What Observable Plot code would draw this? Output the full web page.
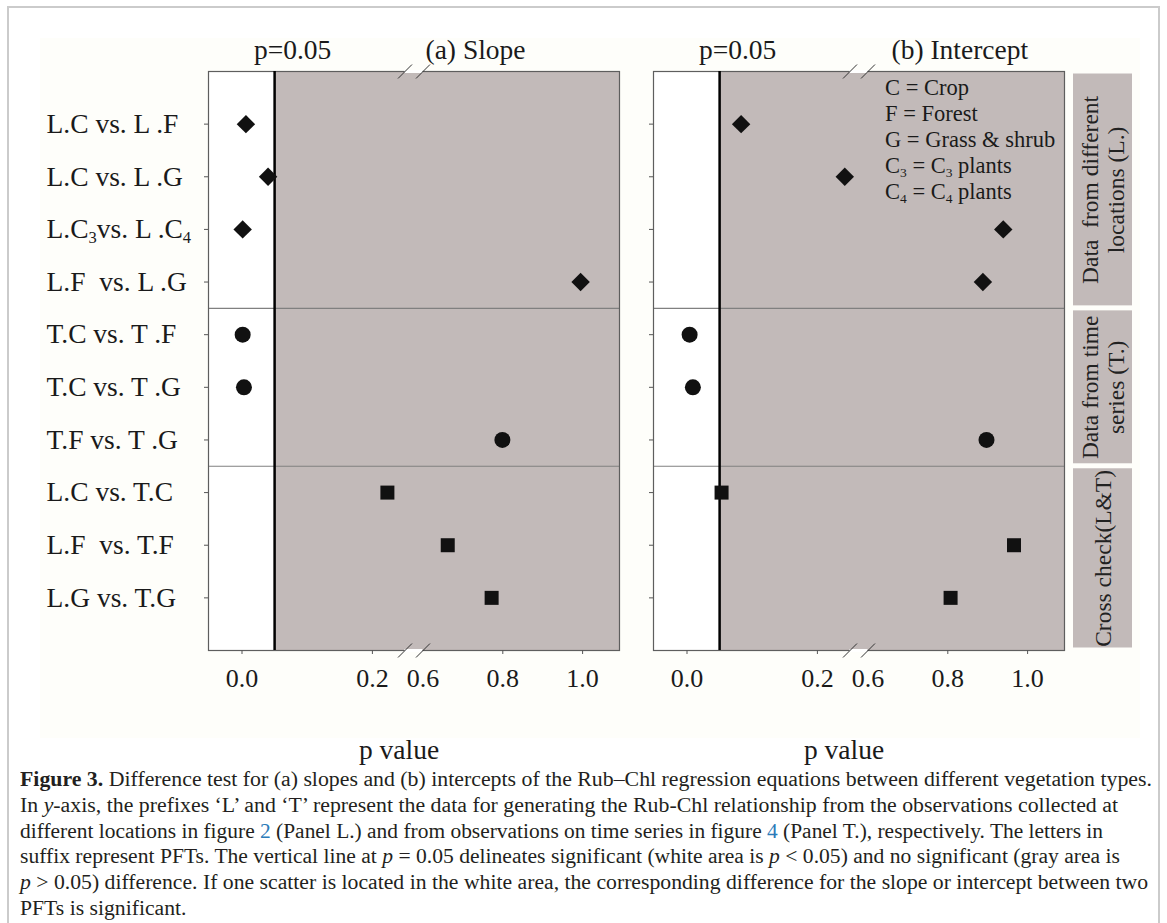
<!DOCTYPE html>
<html><head><meta charset="utf-8">
<script src="https://cdn.jsdelivr.net/npm/d3@7"></script>
<script src="https://cdn.jsdelivr.net/npm/@observablehq/plot@0.6"></script>
<style>
body{margin:0;background:#fff;font-family:"Liberation Serif","Times New Roman",serif;}
#fig{position:relative;width:1167px;height:923px;overflow:hidden;}
.abs{position:absolute;}
#border{left:7px;top:6px;width:1153px;height:960px;border:2px solid #cbcbcb;box-sizing:border-box}
#cream{left:40px;top:38px;width:1100px;height:700px;background:#fefefa}
#legend{left:885px;top:75px;font-size:22.5px;line-height:26px;color:#1a1a1a;white-space:nowrap}
#legend sub{font-size:0.6em;vertical-align:-0.3em;line-height:0}
#caption{left:20px;top:767px;font-size:20.5px;line-height:25.8px;color:#231f20}
#caption .ln{white-space:nowrap;display:block;height:25.8px}
#caption .in{display:inline-block;transform-origin:0 50%}
.fig-ref{color:#2b7bb9}
</style>
</head><body>
<div id="fig">
  <div id="border" class="abs"></div>
  <div id="cream" class="abs"></div>
  <div id="legend" class="abs">
    <div>C = Crop</div>
    <div>F = Forest</div>
    <div>G = Grass &amp; shrub</div>
    <div>C<sub>3</sub> = C<sub>3</sub> plants</div>
    <div>C<sub>4</sub> = C<sub>4</sub> plants</div>
  </div>
  <div id="caption" class="abs">
    <div class="ln" data-w="1132"><span class="in"><b>Figure 3.</b> Difference test for (a) slopes and (b) intercepts of the Rub–Chl regression equations between different vegetation types.</span></div>
    <div class="ln" data-w="1098"><span class="in">In <i>y</i>-axis, the prefixes ‘L’ and ‘T’ represent the data for generating the Rub-Chl relationship from the observations collected at</span></div>
    <div class="ln" data-w="1083"><span class="in">different locations in figure <span class="fig-ref">2</span> (Panel L.) and from observations on time series in figure <span class="fig-ref">4</span> (Panel T.), respectively. The letters in</span></div>
    <div class="ln" data-w="1100"><span class="in">suffix represent PFTs. The vertical line at <i>p</i> = 0.05 delineates significant (white area is <i>p</i> &lt; 0.05) and no significant (gray area is</span></div>
    <div class="ln" data-w="1128"><span class="in"><i>p</i> &gt; 0.05) difference. If one scatter is located in the white area, the corresponding difference for the slope or intercept between two</span></div>
    <div class="ln"><span class="in">PFTs is significant.</span></div>
  </div>
</div>
<script>
// ---- data ----
const rowLabels = ["L.C vs. L .F", "L.C vs. L .G", "L.C3vs. L .C4", "L.F  vs. L .G",
  "T.C vs. T .F", "T.C vs. T .G", "T.F vs. T .G",
  "L.C vs. T.C", "L.F  vs. T.F", "L.G vs. T.G"];
const rowGroups = ["L", "L", "L", "L", "T", "T", "T", "LT", "LT", "LT"];
const slopeP     = [0.006, 0.040, 0.001, 0.995, 0.001, 0.003, 0.799, 0.223, 0.662, 0.772];
const interceptP = [0.083, 0.242, 0.939, 0.888, 0.004, 0.009, 0.897, 0.053, 0.966, 0.807];
const groupOrder = ["L", "T", "LT"];
const groupLabels = ["Data  from different\nlocations (L.)", "Data from time\nseries (T.)", "Cross check(L&T)"];
const xTickValues = [0, 0.2, 0.8, 1.0];
const xTickLabels = [0, 0.2, 0.6, 0.8, 1.0];
const pThreshold = 0.05;
const axisBreak = [0.25, 0.6];

// ---- styles / layout ----
const groupSymbols = {L: "diamond2", T: "circle", LT: "square"};
const groupR = {L: 8.3, T: 8, LT: 7.9};
const n = rowLabels.length;
const pDomain = [-0.0514, axisBreak[0], axisBreak[1], 1.0925];
const axisOffsets = [0, 196.5, 214.5, 411];
const broken = d3.scaleLinear(pDomain, axisOffsets);   // broken-axis transform
const H = 780, TOP = 71, BOTTOM = 650;
const GREY = "#c2bab9", INK = "#1a1a1a";
const FONT = "'Liberation Serif', 'Times New Roman', serif";

const rows = rowLabels.map((label, i) => ({label, i, group: rowGroups[i], slope: slopeP[i], intercept: interceptP[i]}));
const sections = groupOrder.map((g, k) => {
  const idx = rows.filter(r => r.group === g).map(r => r.i);
  const a = d3.min(idx), b = d3.max(idx);
  return {group: g, label: groupLabels[k], y1: a === 0 ? -1 : a - 0.5, y2: b === n - 1 ? n : b + 0.5};
});
const separators = sections.slice(1).map(s => s.y1);

function panel({key, title, width, marginLeft, titleDx, labels}) {
  const span = axisOffsets[axisOffsets.length - 1];
  const sy = d3.scaleLinear([n, -1], [BOTTOM, TOP]);
  const slashes = [];
  for (const b of axisBreak) for (const e of [-1, n]) {
    const px = broken(b), py = sy(e);
    slashes.push({x1: broken.invert(px - 7), y1: sy.invert(py + 7), x2: broken.invert(px + 7), y2: sy.invert(py - 7)});
  }
  const lo = pDomain[0], hi = pDomain[pDomain.length - 1];
  const marks = [
    Plot.rect([0], {x1: lo, x2: pThreshold, y1: -1, y2: n, fill: "white"}),
    Plot.rect([0], {x1: pThreshold, x2: hi, y1: -1, y2: n, fill: GREY}),
    Plot.ruleY(separators, {stroke: "#808080", strokeWidth: 1.2}),
    Plot.frame({stroke: "#5e5e5e", strokeWidth: 1.2}),
    Plot.ruleX([pThreshold], {y1: -1, y2: n, stroke: "#000", strokeWidth: 2.5}),
    Plot.ruleY([-1, n], {x1: axisBreak[0], x2: axisBreak[1], stroke: "white", strokeWidth: 3}),
    Plot.link(slashes, {x1: "x1", y1: "y1", x2: "x2", y2: "y2", stroke: "#333", strokeWidth: 1}),
    Plot.axisY(d3.range(n), {anchor: "left", tickSize: 4, tickFormat: () => "", stroke: "#555"}),
    Plot.axisX(xTickValues, {anchor: "bottom", tickSize: 4, tickFormat: () => "", stroke: "#555"}),
    ...groupOrder.map(g => Plot.dot(rows.filter(r => r.group === g),
      {x: key, y: "i", symbol: groupSymbols[g], r: groupR[g], fill: "#111", stroke: "none"})),
    Plot.text(xTickLabels, {x: d => d, text: d => d.toFixed(1), frameAnchor: "bottom", lineAnchor: "middle", dy: 28, fontSize: 26, fill: INK}),
    Plot.text(["p value"], {frameAnchor: "bottom", dx: -15, dy: 100, lineAnchor: "middle", fontSize: 27.5, fill: INK}),
    Plot.text([title], {frameAnchor: "top-left", dx: titleDx, dy: -21, textAnchor: "start", lineAnchor: "middle", fontSize: 27.5, fill: INK}),
    Plot.text(["p=0.05"], {x: pThreshold, frameAnchor: "top", dx: 18, dy: -21, lineAnchor: "middle", fontSize: 27.5, fill: INK})
  ];
  if (labels) marks.push(Plot.text(rows, {y: "i", text: "label", frameAnchor: "left", textAnchor: "start", dx: -162, lineAnchor: "middle", fontSize: 27.5, fill: INK}));
  return Plot.plot({
    width, height: H, marginLeft, marginRight: width - marginLeft - span, marginTop: TOP, marginBottom: H - BOTTOM,
    x: {transform: broken, domain: [0, span], range: [marginLeft, marginLeft + span]},
    y: {domain: [n, -1]},
    style: {fontFamily: FONT, background: "transparent", overflow: "visible"},
    marks
  });
}

function subscriptify(svg) {
  const NS = "http://www.w3.org/2000/svg";
  svg.querySelectorAll("text").forEach(t => {
    if (t.querySelector("tspan")) return;
    const s = t.textContent;
    if (!/C[34]/.test(s)) return;
    t.textContent = "";
    let shifted = false;
    for (const p of s.split(/(C[34])/)) {
      if (!p) continue;
      if (/^C[34]$/.test(p)) {
        const a = document.createElementNS(NS, "tspan"); a.textContent = "C";
        if (shifted) { a.setAttribute("dy", "-5"); shifted = false; }
        t.appendChild(a);
        const b = document.createElementNS(NS, "tspan"); b.textContent = p[1];
        b.setAttribute("dy", "5"); b.setAttribute("font-size", "0.6em");
        t.appendChild(b); shifted = true;
      } else {
        const a = document.createElementNS(NS, "tspan"); a.textContent = p;
        if (shifted) { a.setAttribute("dy", "-5"); shifted = false; }
        t.appendChild(a);
      }
    }
  });
}

const fig = document.getElementById("fig");
function place(svg, left) {
  svg.style.position = "absolute"; svg.style.left = left + "px"; svg.style.top = "0px";
  fig.appendChild(svg);
}
const pa = panel({key: "slope", title: "(a) Slope", width: 640, marginLeft: 208, titleDx: 217, labels: true});
subscriptify(pa);
place(pa, 0);
const pb = panel({key: "intercept", title: "(b) Intercept", width: 440, marginLeft: 13, titleDx: 238, labels: false});
place(pb, 640);

const side = Plot.plot({
  width: 100, height: H, marginLeft: 13, marginRight: 28, marginTop: TOP, marginBottom: H - BOTTOM,
  x: {domain: [0, 1], axis: null},
  y: {domain: [n, -1], axis: null},
  style: {fontFamily: FONT, background: "transparent", overflow: "visible"},
  marks: [
    Plot.rect(sections, {x1: 0, x2: 1, y1: "y1", y2: "y2", insetTop: 2.5, insetBottom: 2.5, fill: GREY}),
    Plot.text(sections, {x: 0.5, y: d => (d.y1 + d.y2) / 2, text: "label", rotate: -90, fontSize: 23.5, lineHeight: 1.08, fill: "#222"})
  ]
});
place(side, 1060);
fig.appendChild(document.getElementById("legend"));

// caption line fitting
const lines = [...document.querySelectorAll("#caption .ln")];
const factors = [];
lines.forEach(ln => {
  const w = +ln.dataset.w; if (!w) return;
  const inner = ln.querySelector(".in");
  const f = w / inner.getBoundingClientRect().width;
  factors.push(f);
  inner.style.transform = `scaleX(${f})`;
});
const avg = d3.mean(factors);
lines.forEach(ln => { if (!ln.dataset.w) ln.querySelector(".in").style.transform = `scaleX(${avg})`; });
</script>
</body></html>
